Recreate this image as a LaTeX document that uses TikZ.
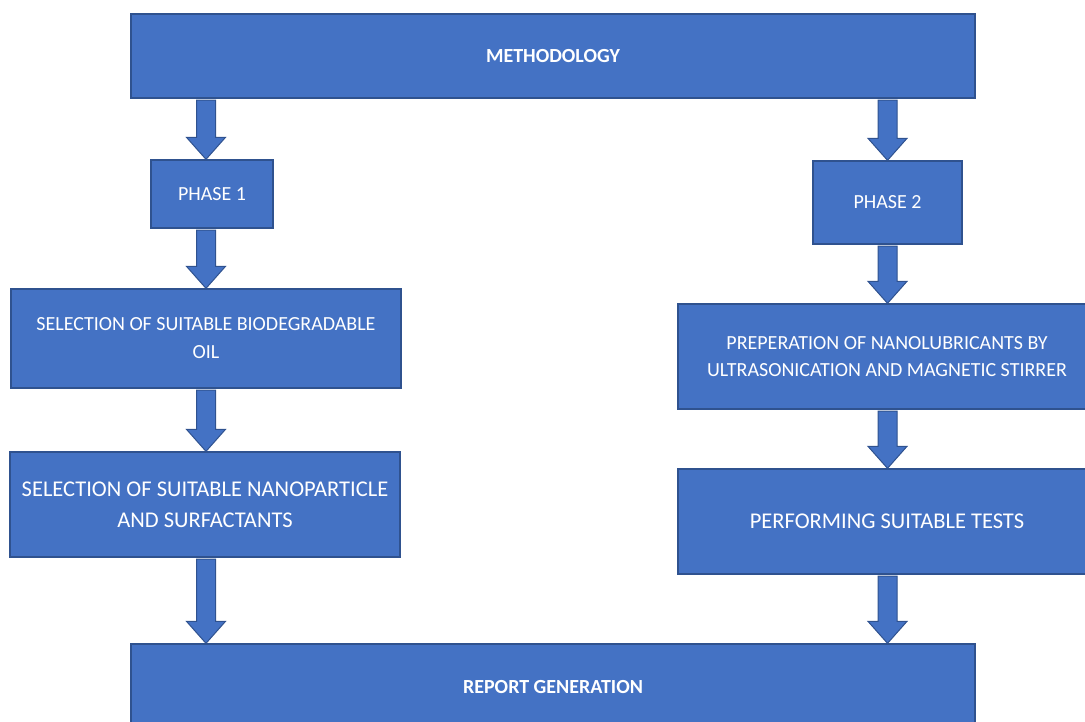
\documentclass[tikz,border=0pt]{standalone}
\usepackage{fontspec}
\setmainfont{Carlito}
\usetikzlibrary{calc}
\definecolor{boxfill}{HTML}{4472C4}
\definecolor{boxline}{HTML}{2F528F}
\newcommand\blockarrow[2]{\path[barrow] let \p1=#1, \p2=#2 in
  (\x1-9.5pt,\y1-1.5pt) -- (\x1+9.5pt,\y1-1.5pt) -- (\x1+9.5pt,\y2+22pt) -- (\x1+19.5pt,\y2+22pt)
  -- (\x1,\y2) -- (\x1-19.5pt,\y2+22pt) -- (\x1-9.5pt,\y2+22pt) -- cycle;}
\begin{document}
\begin{tikzpicture}[x=1pt,y=-1pt,
  box/.style={draw=boxline,fill=boxfill,line width=1.3pt,text=white,align=center,inner sep=0pt,
    rectangle,anchor=center},
  barrow/.style={draw=boxline,fill=boxfill,line width=1pt,line join=miter}]
\useasboundingbox (0,0) rectangle (1085,722);
\clip (0,0) rectangle (1085,722);
\node[box,minimum width=844pt,minimum height=84pt,font=\fontsize{20}{24}\selectfont\bfseries] (meth) at (553,56) {\raisebox{-1.5pt}{METHODOLOGY}};
\node[box,minimum width=122pt,minimum height=68pt,font=\fontsize{20}{27}\selectfont] (ph1) at (212,194) {PHASE 1};
\node[box,minimum width=390pt,minimum height=99pt,font=\fontsize{20}{28}\selectfont] (sel1) at (206,338.5) {SELECTION OF SUITABLE BIODEGRADABLE\\OIL};
\node[box,minimum width=390pt,minimum height=105pt,font=\fontsize{22.5}{31}\selectfont] (sel2) at (205,504.5) {SELECTION OF SUITABLE NANOPARTICLE\\AND SURFACTANTS};
\node[box,minimum width=844pt,minimum height=86pt,font=\fontsize{20}{24}\selectfont\bfseries] (rep) at (553,687) {REPORT GENERATION};
\node[box,minimum width=149pt,minimum height=83pt,font=\fontsize{20}{27}\selectfont] (ph2) at (887.5,202.5) {PHASE 2};
\node[box,minimum width=418pt,minimum height=105pt,font=\fontsize{20}{27}\selectfont] (prep) at (887,356.5) {PREPERATION OF NANOLUBRICANTS BY\\ULTRASONICATION AND MAGNETIC STIRRER};
\node[box,minimum width=418pt,minimum height=105pt,font=\fontsize{22.5}{30}\selectfont] (perf) at (887,521.5) {PERFORMING SUITABLE TESTS};
\blockarrow{(meth.south -| sel1.north)}{(ph1.north -| sel1.north)}
\blockarrow{(ph1.south -| sel1.north)}{(sel1.north)}
\blockarrow{(sel1.south)}{(sel2.north -| sel1.north)}
\blockarrow{(sel2.south -| sel1.north)}{(rep.north -| sel1.north)}
\blockarrow{(meth.south -| ph2.north)}{(ph2.north)}
\blockarrow{(ph2.south)}{(prep.north -| ph2.north)}
\blockarrow{(prep.south -| ph2.north)}{(perf.north -| ph2.north)}
\blockarrow{(perf.south -| ph2.north)}{(rep.north -| ph2.north)}
\end{tikzpicture}
\end{document}
